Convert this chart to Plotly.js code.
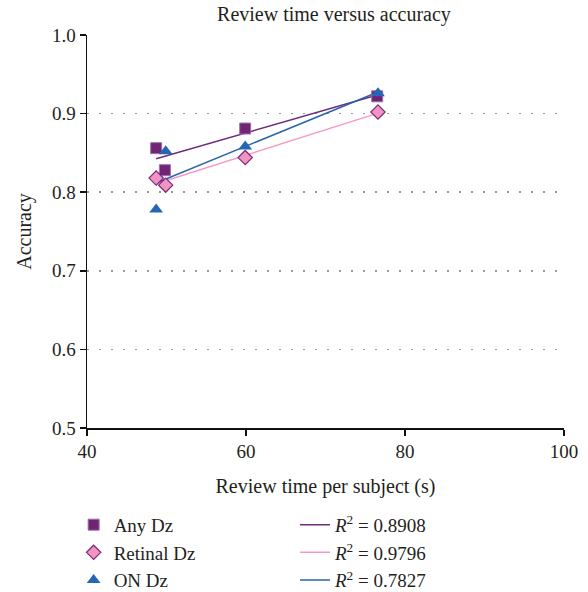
<!DOCTYPE html>
<html>
<head>
<meta charset="utf-8">
<script src="https://cdn.plot.ly/plotly-3.0.1.min.js"></script>
<style>html,body{margin:0;padding:0;background:#fff}#chart{width:588px;height:592px}</style>
</head>
<body>
<div id="chart"></div>
<script>
// Data
const seriesNames = ["Any Dz", "Retinal Dz", "ON Dz"];
const anyX = [48.7, 49.8, 59.9, 76.5];
const anyY = [0.856, 0.828, 0.881, 0.922];
const retX = [48.7, 49.9, 59.9, 76.6];
const retY = [0.818, 0.809, 0.844, 0.902];
const onX = [48.7, 49.9, 59.9, 76.6];
const onY = [0.778, 0.852, 0.858, 0.926];
const r2Labels = ["0.8908", "0.9796", "0.7827"];
const xTicks = [40, 60, 80, 100];
const yTicks = [0.5, 0.6, 0.7, 0.8, 0.9, 1.0];

function fit(xs, ys) {
  const n = xs.length;
  const mx = xs.reduce((a, b) => a + b, 0) / n;
  const my = ys.reduce((a, b) => a + b, 0) / n;
  let sxy = 0, sxx = 0;
  for (let i = 0; i < n; i++) { sxy += (xs[i] - mx) * (ys[i] - my); sxx += (xs[i] - mx) ** 2; }
  const b = sxy / sxx, a = my - b * mx;
  const x0 = Math.min(...xs), x1 = Math.max(...xs);
  return { x: [x0, x1], y: [a + b * x0, a + b * x1] };
}

const FONT = "Liberation Serif, Times New Roman, serif";
const TXT = "#231f20";
const cols = {
  any: { fill: "#6f2476", line: "#a070a8", trend: "#6e2b7a" },
  ret: { fill: "#f194c4", line: "#7a2a78", trend: "#f59ac8" },
  on:  { fill: "#2667b5", line: "#2667b5", trend: "#2a64ad" }
};

const fa = fit(anyX, anyY), fr = fit(retX, retY), fo = fit(onX, onY);

const traces = [
  { x: fa.x, y: fa.y, mode: "lines", line: { color: cols.any.trend, width: 1.5 }, name: "<i>R</i><sup>2</sup> = " + r2Labels[0], legend: "legend2", hoverinfo: "skip" },
  { x: fr.x, y: fr.y, mode: "lines", line: { color: cols.ret.trend, width: 1.5 }, name: "<i>R</i><sup>2</sup> = " + r2Labels[1], legend: "legend2", hoverinfo: "skip" },
  { x: fo.x, y: fo.y, mode: "lines", line: { color: cols.on.trend, width: 1.5 }, name: "<i>R</i><sup>2</sup> = " + r2Labels[2], legend: "legend2", hoverinfo: "skip" },
  { x: anyX, y: anyY, mode: "markers", name: seriesNames[0], legend: "legend",
    marker: { symbol: "square", size: 11, color: cols.any.fill, line: { color: cols.any.line, width: 1 } } },
  { x: retX, y: retY, mode: "markers", name: seriesNames[1], legend: "legend",
    marker: { symbol: "diamond", size: 11, color: cols.ret.fill, line: { color: cols.ret.line, width: 1.2 } } },
  { x: onX, y: onY, mode: "markers", name: seriesNames[2], legend: "legend",
    marker: { symbol: "triangle-up", size: 12, color: cols.on.fill, line: { color: cols.on.line, width: 0 } } }
];

const layout = {
  width: 588, height: 592,
  margin: { l: 87, r: 24, t: 35, b: 164, autoexpand: false },
  paper_bgcolor: "#fff", plot_bgcolor: "#fff",
  font: { family: FONT, size: 20, color: TXT },
  title: { text: "Review time versus accuracy", x: 0.568, xanchor: "center", y: 0.976, yanchor: "middle", font: { family: FONT, size: 20, color: TXT } },
  xaxis: {
    range: [40, 100], tickvals: xTicks, ticktext: xTicks.map(String),
    showline: true, linecolor: "#111", linewidth: 1.5, ticks: "outside", ticklen: 6, tickcolor: "#111", tickwidth: 1.5,
    showgrid: false, zeroline: false,
    title: { text: "Review time per subject (s)", standoff: 17, font: { family: FONT, size: 20, color: TXT } },
    tickfont: { family: FONT, size: 19, color: TXT }
  },
  yaxis: {
    range: [0.5, 1.0], tickvals: yTicks, ticktext: yTicks.map(v => v.toFixed(1)),
    showline: true, linecolor: "#111", linewidth: 1.5, ticks: "outside", ticklen: 6, tickcolor: "#111", tickwidth: 1.5,
    showgrid: true, gridcolor: "#999", gridwidth: 1.5, griddash: "1.5px,10.5px", zeroline: false,
    title: { text: "Accuracy", standoff: 15, font: { family: FONT, size: 20, color: TXT } },
    tickfont: { family: FONT, size: 19, color: TXT }
  },
  showlegend: true,
  legend: { x: -0.028, xref: "paper", y: -0.198, yanchor: "top", bgcolor: "rgba(0,0,0,0)", font: { family: FONT, size: 19, color: TXT }, tracegroupgap: 0 },
  legend2: { x: 0.436, xref: "paper", y: -0.198, yanchor: "top", bgcolor: "rgba(0,0,0,0)", font: { family: FONT, size: 19, color: TXT }, tracegroupgap: 0 }
};

Plotly.newPlot("chart", traces, layout, { displayModeBar: false, staticPlot: true });
</script>
</body>
</html>
